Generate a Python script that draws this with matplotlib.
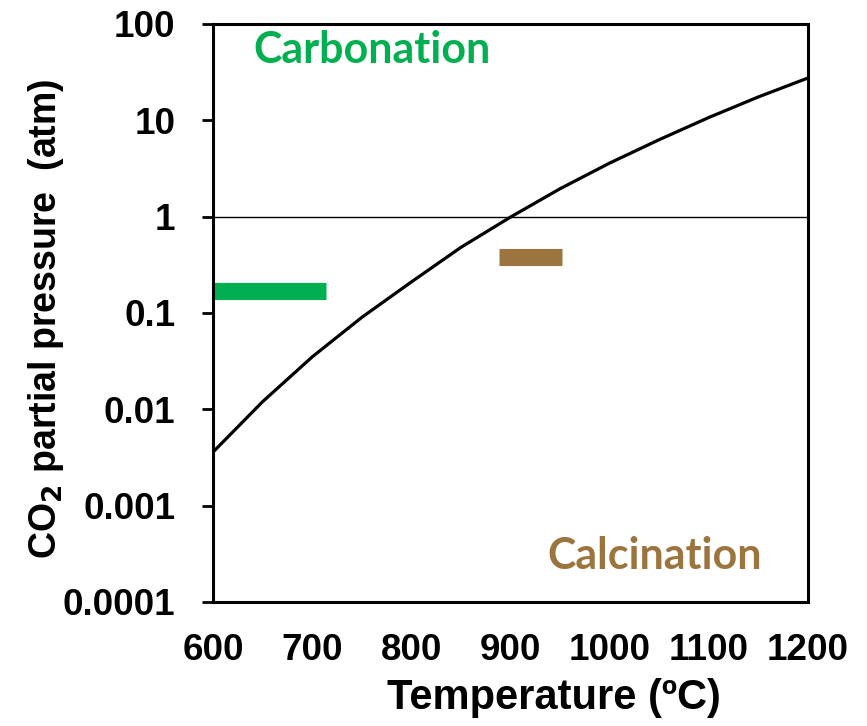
import numpy as np
import matplotlib
matplotlib.use("Agg")
import matplotlib.pyplot as plt

# equilibrium CO2 pressure over CaCO3
temp_c = [600, 650, 700, 750, 800, 850, 900, 950, 1000, 1050, 1100, 1150, 1200]
p_co2 = [0.0036, 0.012, 0.035, 0.09, 0.21, 0.48, 0.99, 1.95, 3.6, 6.3, 10.7, 17.5, 27.5]

# operating windows
carb_x = [600, 714]
carb_p = 0.17
calc_x = [888, 952]
calc_p = 0.38

xticks = [600, 700, 800, 900, 1000, 1100, 1200]
yticks = [0.0001, 0.001, 0.01, 0.1, 1, 10, 100]
ytick_labels = ["0.0001", "0.001", "0.01", "0.1", "1", "10", "100"]

green = "#00B050"
brown = "#9B743E"

plt.rcParams["font.family"] = ["Liberation Sans", "DejaVu Sans"]
plt.rcParams["font.weight"] = "bold"

fig = plt.figure(figsize=(8.67, 7.26), dpi=100)
ax = fig.add_axes([0.2457, 0.1708, 0.932 - 0.2457, 0.967 - 0.1708])

ax.plot(temp_c, p_co2, color="black", lw=2.3)
ax.axhline(1, color="black", lw=1.0)
ax.hlines(carb_p, carb_x[0], carb_x[1], color=green, lw=12.3, capstyle="butt")
ax.hlines(calc_p, calc_x[0], calc_x[1], color=brown, lw=12.3, capstyle="butt")

ax.set_yscale("log")
ax.set_xlim(600, 1200)
ax.set_ylim(0.0001, 100)
ax.set_xticks(xticks)
ax.set_xticklabels([str(t) for t in xticks])
ax.set_yticks(yticks)
ax.set_yticklabels(ytick_labels)
ax.minorticks_off()

for s in ax.spines.values():
    s.set_linewidth(2.2)

ax.tick_params(axis="y", direction="out", length=8, width=2, pad=19, labelsize=26.5)
ax.tick_params(axis="x", length=0, pad=22, labelsize=26.5)

ax.set_xlabel("Temperature (ºC)", fontsize=30, fontweight="bold")
ax.xaxis.label.set_va("baseline")
ax.xaxis.set_label_coords(0.573, -0.185)
ax.set_ylabel("CO$_\\mathbf{2}$ partial pressure  (atm)", fontsize=27, fontweight="bold")
ax.yaxis.label.set_va("center")
ax.yaxis.set_label_coords(-0.28, 0.49)

ax.text(0.067, 0.955, "Carbonation", transform=ax.transAxes, color=green,
        fontsize=31, fontweight="bold", family=["Lato", "DejaVu Sans"],
        ha="left", va="center")
ax.text(0.923, 0.08, "Calcination", transform=ax.transAxes, color=brown,
        fontsize=31, fontweight="bold", family=["Lato", "DejaVu Sans"],
        ha="right", va="center")

fig.savefig("out.png", dpi=100)
